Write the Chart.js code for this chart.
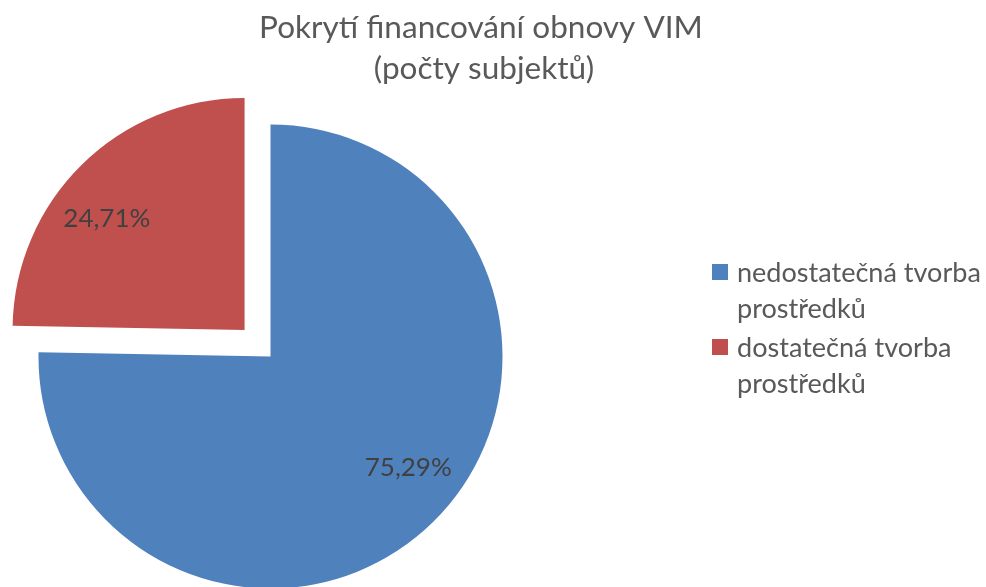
<!DOCTYPE html>
<html><head><meta charset="utf-8">
<script src="https://cdn.jsdelivr.net/npm/chart.js@4.4.0/dist/chart.umd.min.js"></script>
<style>html,body{margin:0;padding:0;background:#fff;overflow:hidden}
#wrap{position:relative;width:986px;height:587px}</style></head>
<body><div id="wrap"><canvas id="c" width="986" height="587"></canvas></div>
<script>
const titleLines = ['Pokrytí financování obnovy VIM', '(počty subjektů)'];
const categories = ['nedostatečná tvorba prostředků', 'dostatečná tvorba prostředků'];
const legendLines = [['nedostatečná tvorba', 'prostředků'], ['dostatečná tvorba', 'prostředků']];
const shares = [75.29, 24.71];
const percentLabels = ['75,29%', '24,71%'];
const colors = ['#4F81BD', '#C0504D'];

const FAMILY = 'Lato, "Open Sans", sans-serif';
function fitSize(ctx, text, width) {
  ctx.font = '100px ' + FAMILY;
  return 100 * width / ctx.measureText(text).width;
}

const overlay = {
  id: 'overlay',
  afterDraw(chart) {
    const ctx = chart.ctx;
    ctx.save();
    // title
    const ts = fitSize(ctx, titleLines[0], 444);
    ctx.font = ts + 'px ' + FAMILY;
    ctx.fillStyle = '#595959';
    ctx.textAlign = 'center';
    ctx.textBaseline = 'alphabetic';
    ctx.fillText(titleLines[0], 481, 38);
    ctx.fillText(titleLines[1], 484, 79);
    // legend
    const ls = fitSize(ctx, legendLines[0][0], 244);
    ctx.font = ls + 'px ' + FAMILY;
    ctx.textAlign = 'left';
    const itemTop = [264, 339];
    legendLines.forEach((lines, i) => {
      ctx.fillStyle = colors[i];
      ctx.fillRect(712, itemTop[i], 16, 16);
      ctx.fillStyle = '#595959';
      lines.forEach((t, j) => ctx.fillText(t, 737, itemTop[i] + 18 + j * 36));
    });
    // data labels: inner corner of label box anchored on the mid-angle ray
    const ds = fitSize(ctx, percentLabels[0], 87);
    ctx.font = ds + 'px ' + FAMILY;
    ctx.fillStyle = '#404040';
    ctx.textAlign = 'center';
    ctx.textBaseline = 'middle';
    chart.getDatasetMeta(0).data.forEach((arc, i) => {
      const mid = (arc.startAngle + arc.endAngle) / 2;
      const off = (arc.options.offset || 0) / 4;
      const r = arc.outerRadius * 0.58 + off;
      const px = arc.x + Math.cos(mid) * r;
      const py = arc.y + Math.sin(mid) * r;
      const w = ctx.measureText(percentLabels[i]).width;
      const h = 30;
      ctx.fillText(percentLabels[i], px + Math.sign(Math.cos(mid)) * w / 2, py + Math.sign(Math.sin(mid)) * h / 2);
    });
    ctx.restore();
  }
};

new Chart(document.getElementById('c'), {
  type: 'pie',
  data: {
    labels: categories,
    datasets: [{
      data: shares,
      backgroundColor: colors,
      borderWidth: 0,
      offset: [0, 148],
      hoverOffset: 0
    }]
  },
  options: {
    responsive: false,
    animation: false,
    radius: 232,
    layout: { padding: { left: 0, right: 445, top: 126, bottom: 0 } },
    plugins: { legend: { display: false }, tooltip: { enabled: false }, title: { display: false } },
    events: []
  },
  plugins: [overlay]
});
</script></body></html>
